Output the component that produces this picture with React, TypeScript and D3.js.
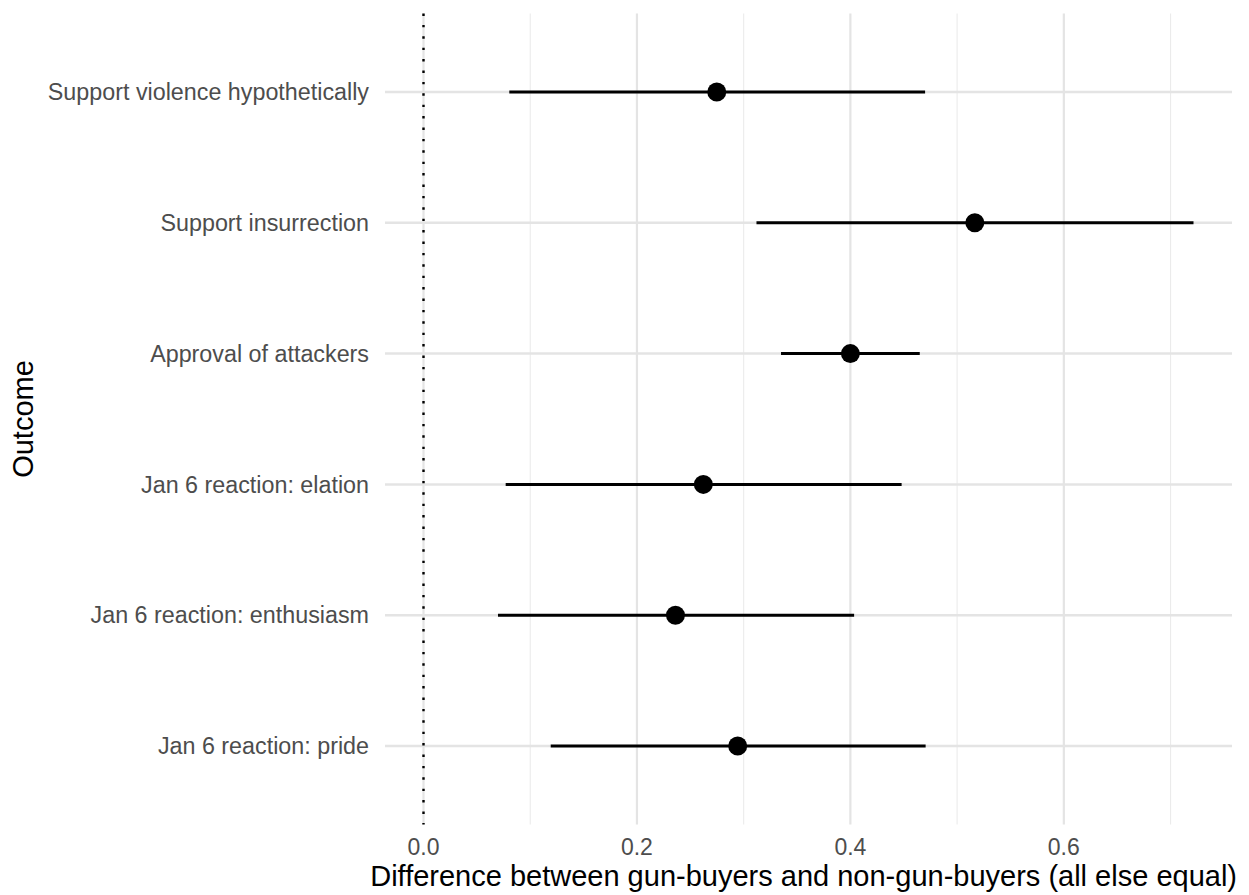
import React, { useEffect, useRef } from "react";
import * as d3 from "d3";

const outcomes = [
  "Support violence hypothetically",
  "Support insurrection",
  "Approval of attackers",
  "Jan 6 reaction: elation",
  "Jan 6 reaction: enthusiasm",
  "Jan 6 reaction: pride",
];
const estimates = [0.2748, 0.5166, 0.4, 0.2622, 0.2361, 0.2944];
const lowerCI = [0.0804, 0.312, 0.335, 0.077, 0.0698, 0.1192];
const upperCI = [0.470, 0.7215, 0.465, 0.448, 0.4035, 0.4705];
const xTicks = [0, 0.2, 0.4, 0.6];
const xMinor = [0.1, 0.3, 0.5, 0.7];
const xTitle = "Difference between gun-buyers and non-gun-buyers (all else equal)";
const yTitle = "Outcome";

const W = 1249;
const H = 895;
const panel = { left: 385, right: 1232, top: 13.5, bottom: 824.5 };

export default function App() {
  const ref = useRef<SVGSVGElement>(null);
  useEffect(() => {
    const svg = d3.select(ref.current);
    svg.selectAll("*").remove();
    const font = "'Liberation Sans', Arial, Helvetica, sans-serif";

    const xMin = 0, xMaxData = d3.max(upperCI) as number;
    const pad = (xMaxData - xMin) * 0.05;
    const x = d3.scaleLinear().domain([xMin - pad, xMaxData + pad]).range([panel.left, panel.right]);
    const n = outcomes.length;
    const yPos = d3.scaleLinear().domain([0.4, n + 0.6]).range([panel.bottom, panel.top]);
    const y = (i: number) => yPos(n - i);

    const g = svg.append("g");
    g.selectAll(".minor").data(xMinor).enter().append("line")
      .attr("x1", d => x(d)).attr("x2", d => x(d))
      .attr("y1", panel.top).attr("y2", panel.bottom)
      .attr("stroke", "#EBEBEB").attr("stroke-width", 1.1);
    g.selectAll(".major").data(xTicks).enter().append("line")
      .attr("x1", d => x(d)).attr("x2", d => x(d))
      .attr("y1", panel.top).attr("y2", panel.bottom)
      .attr("stroke", "#E4E4E4").attr("stroke-width", 2.2);
    g.selectAll(".hg").data(outcomes).enter().append("line")
      .attr("x1", panel.left).attr("x2", panel.right)
      .attr("y1", (_d, i) => y(i)).attr("y2", (_d, i) => y(i))
      .attr("stroke", "#E4E4E4").attr("stroke-width", 2.5);

    g.append("line")
      .attr("x1", x(0)).attr("x2", x(0))
      .attr("y1", panel.top).attr("y2", panel.bottom)
      .attr("stroke", "#000").attr("stroke-width", 2.4)
      .attr("stroke-dasharray", "2.4 9");

    g.selectAll(".ci").data(outcomes).enter().append("line")
      .attr("x1", (_d, i) => x(lowerCI[i])).attr("x2", (_d, i) => x(upperCI[i]))
      .attr("y1", (_d, i) => y(i)).attr("y2", (_d, i) => y(i))
      .attr("stroke", "#000").attr("stroke-width", 3);
    g.selectAll(".pt").data(outcomes).enter().append("circle")
      .attr("cx", (_d, i) => x(estimates[i])).attr("cy", (_d, i) => y(i))
      .attr("r", 9.5).attr("fill", "#000");

    g.selectAll(".yl").data(outcomes).enter().append("text")
      .attr("x", 369).attr("y", (_d, i) => y(i))
      .attr("dy", "0.35em").attr("text-anchor", "end")
      .attr("font-family", font).attr("font-size", 23.3).attr("fill", "#4D4D4D")
      .text(d => d);
    g.selectAll(".xl").data(xTicks).enter().append("text")
      .attr("x", d => x(d)).attr("y", 847)
      .attr("dy", "0.35em").attr("text-anchor", "middle")
      .attr("font-family", font).attr("font-size", 23).attr("fill", "#4D4D4D")
      .text(d => d3.format(".1f")(d));
    g.append("text")
      .attr("x", 1237).attr("y", 886)
      .attr("text-anchor", "end")
      .attr("font-family", font).attr("font-size", 29).attr("fill", "#000")
      .text(xTitle);
    g.append("text")
      .attr("transform", `translate(22.5,${(panel.top + panel.bottom) / 2}) rotate(-90)`)
      .attr("dy", "0.35em").attr("text-anchor", "middle")
      .attr("font-family", font).attr("font-size", 29).attr("fill", "#000")
      .text(yTitle);
  }, []);
  return (
    <div style={{ position: "absolute", left: 0, top: 0 }}>
      <svg ref={ref} width={W} height={H} style={{ display: "block", background: "#fff" }} />
    </div>
  );
}
